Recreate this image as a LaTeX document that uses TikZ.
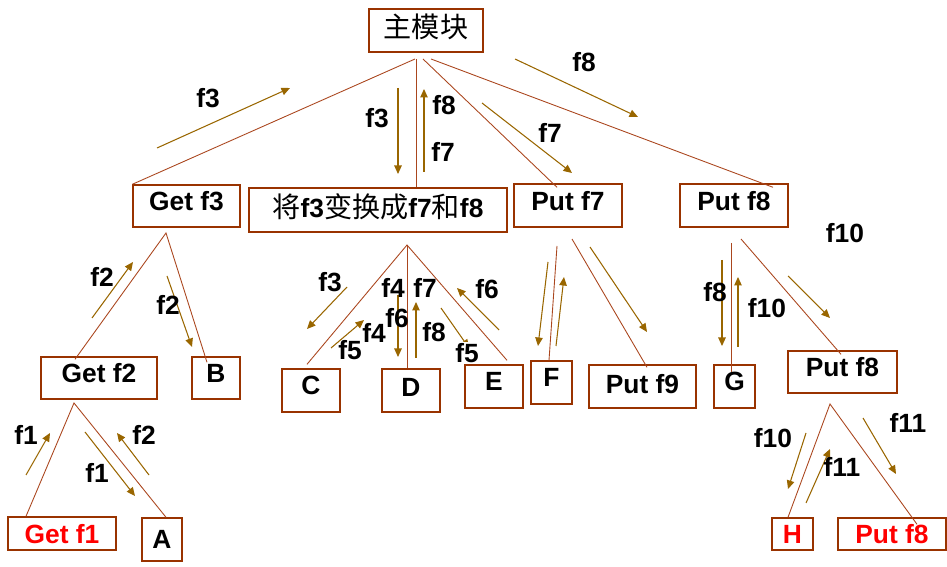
\documentclass[tikz,border=0pt]{standalone}
\usepackage{fontspec}
\setmainfont{Liberation Sans}
\newfontfamily\cjk{Noto Sans CJK SC}
\usetikzlibrary{arrows.meta}
\definecolor{boxbrown}{RGB}{153,51,0}
\definecolor{treebrown}{RGB}{170,70,30}
\definecolor{flowbrown}{RGB}{153,102,0}

\begin{document}
\begin{tikzpicture}[x=0.02cm, y=-0.02cm,
    modbox/.style={draw=boxbrown, line width=0.8pt, inner sep=0pt, text depth=1.9mm,
      font=\fontsize{15}{17}\selectfont\bfseries},
    lowbox/.style={modbox, text depth=0pt, text=red},
    treeline/.style={draw=treebrown, line width=0.5pt},
    dataflow/.style={draw=flowbrown, line width=0.6pt,
      -{Triangle[length=1.7mm,width=1.5mm]}},
    flabel/.style={font=\fontsize{15}{17}\selectfont\bfseries, inner sep=0pt}]
    \useasboundingbox (0,0) rectangle (947,567);

    % modules
    \node [modbox, minimum width=2.28cm, minimum height=0.86cm, font=\fontsize{16}{18}\selectfont\cjk] (main) at (426,30.5) {主模块};
    \node [modbox, minimum width=2.14cm, minimum height=0.84cm] (getf3) at (186.5,206) {Get f3};
    \node [modbox, minimum width=5.16cm, minimum height=0.88cm] (conv) at (378,210)
      {{\fontsize{16}{18}\selectfont\cjk\mdseries 将}f3{\fontsize{16}{18}\selectfont\cjk\mdseries 变换成}f7{\fontsize{16}{18}\selectfont\cjk\mdseries 和}f8};
    \node [modbox, minimum width=2.16cm, minimum height=0.86cm] (putf7) at (568,205.5) {Put f7};
    \node [modbox, minimum width=2.16cm, minimum height=0.86cm] (putf8a) at (734,205.5) {Put f8};
    \node [modbox, minimum width=2.32cm, minimum height=0.84cm] (getf2) at (99,378) {Get f2};
    \node [modbox, minimum width=0.96cm, minimum height=0.84cm] (B) at (216,378) {B};
    \node [modbox, minimum width=1.16cm, minimum height=0.86cm] (C) at (311,390.5) {C};
    \node [modbox, minimum width=1.16cm, minimum height=0.86cm, text depth=1.2mm] (D) at (411,390.5) {D};
    \node [modbox, minimum width=1.16cm, minimum height=0.86cm] (E) at (494,386.5) {E};
    \node [modbox, minimum width=0.82cm, minimum height=0.86cm] (F) at (551.5,382.5) {F};
    \node [modbox, minimum width=2.14cm, minimum height=0.86cm, text depth=1.2mm] (putf9) at (642.5,386.5) {Put f9};
    \node [modbox, minimum width=0.82cm, minimum height=0.86cm] (G) at (734.5,386.5) {G};
    \node [modbox, minimum width=2.18cm, minimum height=0.84cm] (putf8b) at (842.5,372) {Put f8};
    \node [lowbox, minimum width=2.16cm, minimum height=0.66cm] (getf1) at (62,533.5) {Get f1};
    \node [modbox, minimum width=0.80cm, minimum height=0.86cm, text depth=0pt] (A) at (162,539.5) {A};
    \node [lowbox, minimum width=0.82cm, minimum height=0.64cm] (H) at (792.5,534) {H};
    \node [lowbox, minimum width=2.16cm, minimum height=0.64cm] (putf8c) at (892,534) {Put f8};

    % branch points
    \coordinate (m1) at (415,59);
    \coordinate (m2) at (416,59);
    \coordinate (m3) at (423,59);
    \coordinate (m4) at (431,59);
    \coordinate (g3) at (166,233);
    \coordinate (g2) at (74,403);
    \coordinate (cv) at (407,245);
    \coordinate (p7a) at (557,246);
    \coordinate (p7b) at (572,239);
    \coordinate (p8a) at (731,243);
    \coordinate (p8b) at (741,239);
    \coordinate (pb) at (830,404);

    % tree
    \draw [treeline] (m1) -- (getf3.north west);
    \draw [treeline] (m2) -- (m2 |- conv.north);
    \draw [treeline] (m3) -- ([shift={(-11,4)}]putf7.north);
    \draw [treeline] (m4) -- ([shift={(39,4)}]putf8a.north);
    \draw [treeline] ([shift={(-24,3)}]getf2.north) -- (g3) -- ([shift={(-9,6)}]B.north);
    \draw [treeline] ([shift={(-36,0)}]getf1.north) -- (g2) -- ([shift={(4,0)}]A.north);
    \draw [treeline] ([shift={(-4,-4)}]C.north) -- (cv) -- ([shift={(13,-4)}]E.north);
    \draw [treeline] (cv) -- (cv |- D.north);
    \draw [treeline] (p7a) -- ([shift={(-2.5,0)}]F.north);
    \draw [treeline] (p7b) -- ([shift={(4.5,3)}]putf9.north);
    \draw [treeline] (p8a) -- ([shift={(-3.5,8)}]G.north);
    \draw [treeline] (p8b) -- ([shift={(-1.5,4)}]putf8b.north);
    \draw [treeline] ([shift={(-4.5,0)}]H.north) -- (pb) -- ([shift={(25,7)}]putf8c.north);

    % data flow
    \foreach \a/\b/\c/\d in {157/148/290/88, 398/88/398/174, 424/172/424/89,
        482/103/572/173, 515/59/638/117, 92/318/133/262, 167/276/192/347,
        26/475/50/433, 85/432/135/496, 149/475/117/433, 347/287/307/329,
        331/348/364/320, 398/295/398/357, 416/358/416/302, 441/308/469/348,
        499/330/457/288, 548/262/538/346, 556/346/564/277, 590/247/647/332,
        722/260/722/346, 738/347/738/277, 788/276/830/318, 806/433/788/489,
        806/503/830/449, 863/418/896/474}
      \draw [dataflow] (\a,\b) -- (\c,\d);

    \foreach \t/\x/\y [count=\i] in {f3/208/98, f3/377/118, f8/444/105, f7/443/152,
        f7/550/133, f8/584/62, f2/102/277, f2/168/305, f1/26/435, f1/97/473,
        f2/144/435, f3/330/282, f5/350/350, f4/374/333, f4/393/288, f6/397/318,
        f7/425/288, f8/434/332, f6/487/289, f8/715/292, f10/767/308,
        f10/845/233, f10/773/438, f11/842/467, f11/908/423}
      \node [flabel] (lab\i) at (\x,\y) {\t};
    \node [flabel, fill=white, inner sep=1pt] (labE) at (467,353) {f5};
\end{tikzpicture}
\end{document}
